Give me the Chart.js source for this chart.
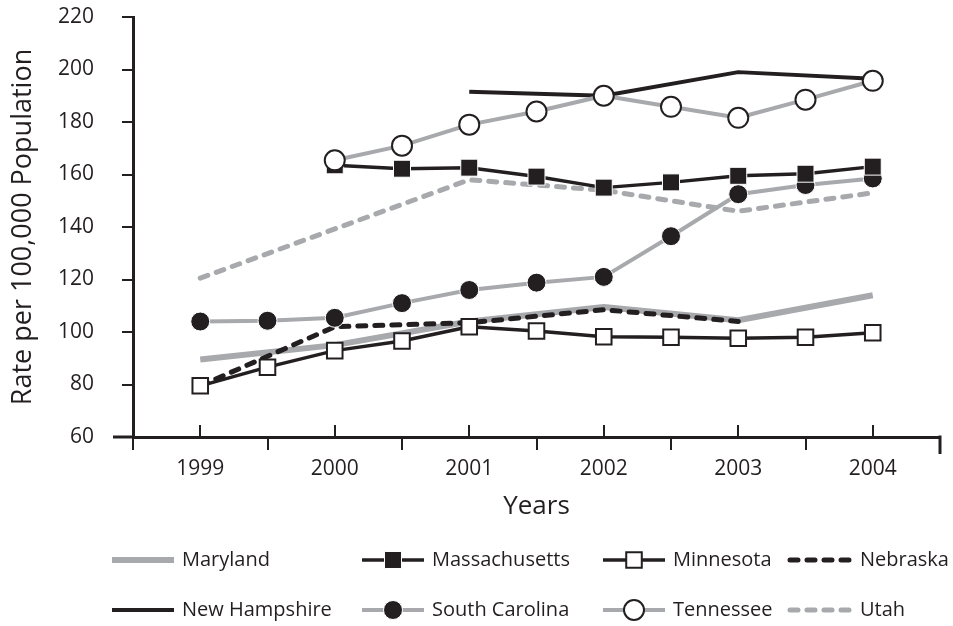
<!DOCTYPE html>
<html>
<head>
<meta charset="utf-8">
<script src="https://cdn.jsdelivr.net/npm/chart.js@4.4.1/dist/chart.umd.min.js"></script>
<style>
  html, body { margin: 0; padding: 0; background: #fff; }
  #wrap { width: 953px; height: 626px; }
</style>
</head>
<body>
<div id="wrap"><canvas id="rateChart" width="953" height="626"></canvas></div>
<script>
// x positions (half-year steps) and the labelled years
const years = [1999, 1999.5, 2000, 2000.5, 2001, 2001.5, 2002, 2002.5, 2003, 2003.5, 2004];
const yearLabels = [1999, 2000, 2001, 2002, 2003, 2004];
const yTickValues = [60, 80, 100, 120, 140, 160, 180, 200, 220];

// rate per 100,000, null where a state has no value
const maryland      = [89.5, null, 95, null, 104, null, 109.5, null, 104.5, null, 114];
const massachusetts = [null, null, 163.5, 162.2, 162.6, 159.2, 155, 157, 159.5, 160.3, 163];
const minnesota     = [79.5, 86.6, 92.9, 96.6, 102, 100.4, 98.2, 98, 97.6, 98, 99.7];
const nebraska      = [79.5, null, 102, null, 103.5, null, 108.5, null, 104, null, null];
const newHampshire  = [null, null, null, null, 191.5, null, 190, null, 199, null, 196.5];
const southCarolina = [104, 104.3, 105.4, 111, 116, 118.8, 121, 136.5, 152.5, 156, 158.5];
const tennessee     = [null, null, 165.4, 171, 179, 184, 190, 185.8, 181.6, 188.5, 195.7];
const utah          = [120.5, null, null, null, 158, null, 154, null, 146, null, 153];

const BLACK = '#231f20';
const GRAY = '#a7a9ac';

Chart.defaults.font.family = "'Open Sans', sans-serif";
Chart.defaults.color = BLACK;

const toPoints = vals => years.map((x, i) => ({ x: x, y: vals[i] }));

function series(label, vals, opts) {
  return Object.assign({
    label: label,
    data: toPoints(vals),
    spanGaps: true,
    tension: 0,
    borderJoinStyle: 'round',
    pointRadius: 0,
    pointHoverRadius: 0
  }, opts);
}

const datasets = [
  series('Maryland', maryland, { borderColor: GRAY, borderWidth: 6, order: 7 }),
  series('Massachusetts', massachusetts, {
    borderColor: BLACK, borderWidth: 3.5, order: 1,
    pointStyle: 'rect', pointRadius: 12, pointHoverRadius: 12,
    pointBackgroundColor: BLACK, pointBorderColor: '#fff', pointBorderWidth: 1
  }),
  series('Minnesota', minnesota, {
    borderColor: BLACK, borderWidth: 3.5, order: 2,
    pointStyle: 'rect', pointRadius: 11, pointHoverRadius: 11,
    pointBackgroundColor: '#fff', pointBorderColor: BLACK, pointBorderWidth: 2
  }),
  series('Nebraska', nebraska, {
    borderColor: BLACK, borderWidth: 5, borderDash: [8, 9], borderCapStyle: 'round', order: 5
  }),
  series('New Hampshire', newHampshire, { borderColor: BLACK, borderWidth: 4, order: 4 }),
  series('South Carolina', southCarolina, {
    borderColor: GRAY, borderWidth: 4, order: 3,
    pointStyle: 'circle', pointRadius: 9.5, pointHoverRadius: 9.5,
    pointBackgroundColor: BLACK, pointBorderColor: '#fff', pointBorderWidth: 1
  }),
  series('Tennessee', tennessee, {
    borderColor: GRAY, borderWidth: 4, order: 0,
    pointStyle: 'circle', pointRadius: 10, pointHoverRadius: 10,
    pointBackgroundColor: '#fff', pointBorderColor: BLACK, pointBorderWidth: 2
  }),
  series('Utah', utah, {
    borderColor: GRAY, borderWidth: 5, borderDash: [8, 9], borderCapStyle: 'round', order: 6
  })
];

// extra axis bits: left stub of x axis, upward ticks at whole years, right end tick
const axisExtras = {
  id: 'axisExtras',
  afterDraw(chart) {
    const ctx = chart.ctx;
    const area = chart.chartArea;
    const xs = chart.scales.x;
    ctx.save();
    ctx.strokeStyle = BLACK;
    ctx.lineCap = 'butt';
    ctx.lineWidth = 3;
    ctx.beginPath();
    ctx.moveTo(113, area.bottom);
    ctx.lineTo(area.left, area.bottom);
    ctx.moveTo(area.right, area.bottom - 1.5);
    ctx.lineTo(area.right, area.bottom + 17);
    ctx.stroke();
    ctx.lineWidth = 2;
    ctx.beginPath();
    yearLabels.forEach(yr => {
      const px = Math.round(xs.getPixelForValue(yr));
      ctx.moveTo(px, area.bottom - 12);
      ctx.lineTo(px, area.bottom);
    });
    ctx.stroke();
    ctx.restore();
  }
};

// two-row legend laid out in columns
const gridLegend = {
  id: 'gridLegend',
  afterDraw(chart) {
    const ctx = chart.ctx;
    const cols = [112, 362, 603, 790];
    const rows = [560, 610];
    chart.data.datasets.forEach((ds, i) => {
      const x0 = cols[i % 4];
      const y = rows[Math.floor(i / 4)];
      ctx.save();
      ctx.strokeStyle = ds.borderColor;
      ctx.lineWidth = ds.borderWidth;
      ctx.lineCap = ds.borderCapStyle || 'butt';
      ctx.setLineDash(ds.borderDash || []);
      ctx.beginPath();
      ctx.moveTo(x0, y);
      ctx.lineTo(x0 + 62, y);
      ctx.stroke();
      ctx.setLineDash([]);
      if (ds.pointRadius > 0) {
        ctx.fillStyle = ds.pointBackgroundColor;
        ctx.strokeStyle = ds.pointBorderColor;
        ctx.lineWidth = ds.pointBorderWidth;
        Chart.helpers.drawPoint(ctx, {
          pointStyle: ds.pointStyle, radius: ds.pointRadius, rotation: 0, borderWidth: ds.pointBorderWidth
        }, x0 + 31, y);
      }
      ctx.fillStyle = BLACK;
      ctx.font = "20px 'Open Sans', sans-serif";
      ctx.textBaseline = 'middle';
      ctx.textAlign = 'left';
      ctx.fillText(ds.label, x0 + 70, y);
      ctx.restore();
    });
  }
};

new Chart(document.getElementById('rateChart'), {
  type: 'line',
  data: { datasets: datasets },
  options: {
    responsive: false,
    animation: false,
    events: [],
    layout: { padding: { top: 17, right: 13, bottom: 89, left: 0 } },
    plugins: { legend: { display: false }, tooltip: { enabled: false } },
    scales: {
      x: {
        type: 'linear',
        min: 1998.5,
        max: 2004.5,
        afterFit: s => { s.height = 100; },
        border: { display: true, color: BLACK, width: 3 },
        grid: {
          drawOnChartArea: false,
          drawTicks: true,
          tickLength: 13,
          lineWidth: 2,
          color: c => (c.tick && yearLabels.includes(c.tick.value)) ? 'rgba(0,0,0,0)' : BLACK
        },
        ticks: {
          stepSize: 0.5,
          autoSkip: false,
          maxRotation: 0,
          padding: 6,
          color: BLACK,
          font: { size: 21 },
          callback: v => yearLabels.includes(v) ? String(v) : ''
        },
        title: { display: true, text: 'Years', color: BLACK, font: { size: 26 }, padding: { bottom: 15 } }
      },
      y: {
        min: 60,
        max: 220,
        afterFit: s => { s.width = 133; s.paddingTop = 0; s.paddingBottom = 0; },
        afterBuildTicks: s => { s.ticks = yTickValues.map(v => ({ value: v })); },
        border: { display: true, color: BLACK, width: 3 },
        grid: { drawOnChartArea: false, drawTicks: true, tickLength: 11, lineWidth: 2, color: BLACK },
        ticks: { padding: 28, color: BLACK, font: { size: 21 } },
        title: {
          display: true, text: 'Rate per 100,000 Population', color: BLACK,
          font: { size: 27 }, padding: { top: 7 }
        }
      }
    }
  },
  plugins: [axisExtras, gridLegend]
});
</script>
</body>
</html>
